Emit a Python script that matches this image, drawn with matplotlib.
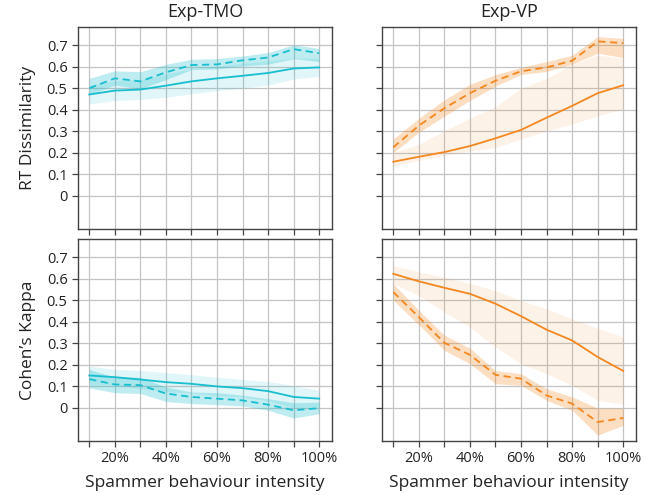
import matplotlib
matplotlib.use("Agg")
import matplotlib.pyplot as plt
import numpy as np

plt.rcParams['font.family'] = ['Open Sans', 'DejaVu Sans']

x = [0.1, 0.2, 0.3, 0.4, 0.5, 0.6, 0.7, 0.8, 0.9, 1.0]
xtick_labels = ["", "20%", "", "40%", "", "60%", "", "80%", "", "100%"]
yticks = [0, 0.1, 0.2, 0.3, 0.4, 0.5, 0.6, 0.7]
ytick_labels = ["0", "0.1", "0.2", "0.3", "0.4", "0.5", "0.6", "0.7"]
col_titles = ["Exp-TMO", "Exp-VP"]
row_labels = ["RT Dissimilarity", "Cohen\u2019s Kappa"]
xlabel = "Spammer behaviour intensity"

# Exp-TMO, RT Dissimilarity
tmo_rt_solid = [0.471, 0.489, 0.494, 0.512, 0.532, 0.546, 0.558, 0.571, 0.592, 0.597]
tmo_rt_solid_lo = [0.427, 0.443, 0.448, 0.458, 0.474, 0.489, 0.500, 0.515, 0.543, 0.555]
tmo_rt_solid_hi = [0.515, 0.535, 0.540, 0.566, 0.590, 0.603, 0.616, 0.627, 0.641, 0.639]
tmo_rt_dash = [0.500, 0.546, 0.532, 0.574, 0.608, 0.611, 0.630, 0.643, 0.682, 0.663]
tmo_rt_dash_lo = [0.470, 0.515, 0.497, 0.540, 0.587, 0.590, 0.604, 0.612, 0.638, 0.624]
tmo_rt_dash_hi = [0.546, 0.581, 0.577, 0.611, 0.635, 0.638, 0.650, 0.666, 0.702, 0.685]

# Exp-VP, RT Dissimilarity
vp_rt_solid = [0.158, 0.181, 0.203, 0.231, 0.267, 0.306, 0.363, 0.418, 0.477, 0.514]
vp_rt_solid_lo = [0.138, 0.164, 0.188, 0.208, 0.224, 0.263, 0.302, 0.333, 0.372, 0.403]
vp_rt_solid_hi = [0.200, 0.239, 0.302, 0.360, 0.414, 0.500, 0.546, 0.612, 0.654, 0.640]
vp_rt_dash = [0.225, 0.326, 0.407, 0.477, 0.535, 0.579, 0.597, 0.628, 0.718, 0.710]
vp_rt_dash_lo = [0.200, 0.295, 0.370, 0.443, 0.510, 0.564, 0.578, 0.612, 0.663, 0.643]
vp_rt_dash_hi = [0.264, 0.360, 0.446, 0.518, 0.563, 0.597, 0.624, 0.654, 0.740, 0.732]

# Exp-TMO, Cohen's Kappa
tmo_k_solid = [0.150, 0.142, 0.131, 0.119, 0.111, 0.099, 0.091, 0.077, 0.050, 0.042]
tmo_k_solid_lo = [0.106, 0.106, 0.089, 0.075, 0.069, 0.056, 0.051, 0.032, 0.000, 0.004]
tmo_k_solid_hi = [0.194, 0.178, 0.173, 0.163, 0.153, 0.142, 0.131, 0.122, 0.103, 0.080]
tmo_k_dash = [0.133, 0.108, 0.105, 0.066, 0.050, 0.042, 0.034, 0.014, -0.012, -0.002]
tmo_k_dash_lo = [0.092, 0.070, 0.066, 0.029, 0.019, 0.014, 0.008, -0.012, -0.048, -0.028]
tmo_k_dash_hi = [0.178, 0.142, 0.142, 0.096, 0.073, 0.070, 0.058, 0.042, 0.023, 0.026]

# Exp-VP, Cohen's Kappa
vp_k_solid = [0.623, 0.588, 0.558, 0.530, 0.484, 0.426, 0.363, 0.313, 0.236, 0.171]
vp_k_solid_lo = [0.577, 0.522, 0.445, 0.375, 0.282, 0.205, 0.158, 0.104, 0.034, 0.016]
vp_k_solid_hi = [0.661, 0.633, 0.607, 0.579, 0.545, 0.498, 0.460, 0.414, 0.370, 0.329]
vp_k_dash = [0.538, 0.422, 0.302, 0.246, 0.153, 0.135, 0.057, 0.019, -0.067, -0.048]
vp_k_dash_lo = [0.500, 0.386, 0.267, 0.205, 0.112, 0.104, 0.034, -0.012, -0.128, -0.082]
vp_k_dash_hi = [0.577, 0.453, 0.337, 0.277, 0.173, 0.158, 0.088, 0.050, -0.002, -0.002]

cyan = "#17becf"
orange = "#f5871f"

panels = [
    [(cyan, tmo_rt_solid, tmo_rt_solid_lo, tmo_rt_solid_hi, tmo_rt_dash, tmo_rt_dash_lo, tmo_rt_dash_hi),
     (orange, vp_rt_solid, vp_rt_solid_lo, vp_rt_solid_hi, vp_rt_dash, vp_rt_dash_lo, vp_rt_dash_hi)],
    [(cyan, tmo_k_solid, tmo_k_solid_lo, tmo_k_solid_hi, tmo_k_dash, tmo_k_dash_lo, tmo_k_dash_hi),
     (orange, vp_k_solid, vp_k_solid_lo, vp_k_solid_hi, vp_k_dash, vp_k_dash_lo, vp_k_dash_hi)],
]

fig = plt.figure(figsize=(6.64, 4.95), dpi=100)
lefts = [78 / 664, 382 / 664]
width = 254 / 664
bottoms = [(495 - 229) / 495, (495 - 441) / 495]
height = 202 / 495

for r in range(2):
    for c in range(2):
        ax = fig.add_axes([lefts[c], bottoms[r], width, height])
        color, s, slo, shi, d, dlo, dhi = panels[r][c]
        solid_alpha = 0.1 if color == orange else 0.13
        dash_alpha = 0.27 if color == orange else 0.28
        ax.fill_between(x, slo, shi, color=color, alpha=solid_alpha, linewidth=0)
        ax.fill_between(x, dlo, dhi, color=color, alpha=dash_alpha, linewidth=0)
        ax.plot(x, s, color=color, lw=1.3)
        ax.plot(x, d, color=color, lw=1.3, ls=(0, (4, 2.5)))
        ax.set_xlim(0.056, 1.05)
        ax.set_ylim(-0.155, 0.785)
        ax.set_xticks(x)
        ax.set_yticks(yticks)
        ax.grid(True, color="#c4c4c4", lw=0.9)
        ax.set_axisbelow(True)
        for sp in ax.spines.values():
            sp.set_color("#444444")
            sp.set_linewidth(1.0)
        ax.tick_params(direction="out", length=4, width=0.9, color="#444444",
                       labelsize=10.5, labelcolor="#222222")
        if r == 1:
            ax.set_xticklabels(xtick_labels)
            ax.set_xlabel(xlabel, fontsize=12.5, color="#222222", labelpad=6)
        else:
            ax.set_xticklabels([])
            ax.set_title(col_titles[c], fontsize=13, color="#222222", pad=7)
        if c == 0:
            ax.set_yticklabels(ytick_labels)
            ax.set_ylabel(row_labels[r], fontsize=12.5, color="#222222", labelpad=8)
        else:
            ax.set_yticklabels([])

fig.savefig("out.png", dpi=100)
